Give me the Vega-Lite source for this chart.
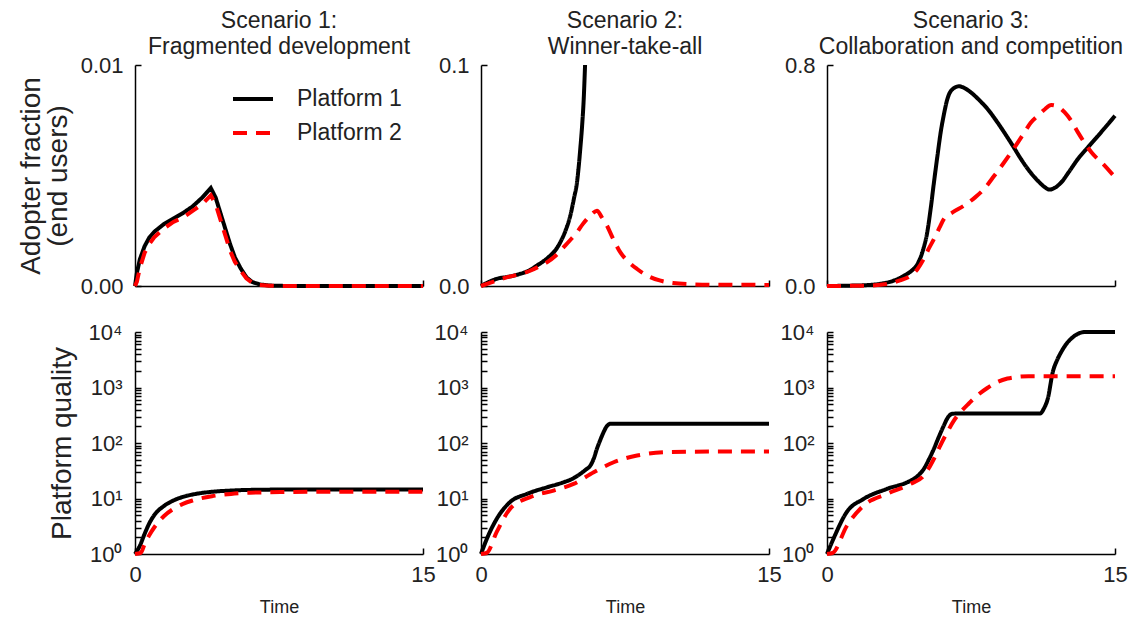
{
"$schema": "https://vega.github.io/schema/vega-lite/v6.json",
"padding": {"left": 17, "top": 10, "right": 0, "bottom": 0},
"background": "white",
"config": {
  "view": {"stroke": null},
  "font": "Liberation Sans",
  "axis": {"grid": false, "domainColor": "#000", "tickColor": "#000", "labelColor": "#222", "titleColor": "#222", "labelFontSize": 22, "domainWidth": 1.5, "tickWidth": 1.5, "labelFlush": false, "labelOverlap": false, "titleFontWeight": "normal"},
  "title": {"fontSize": 23, "fontWeight": "normal", "color": "#222", "lineHeight": 26, "frame": "group", "offset": -5},
  "line": {"strokeWidth": 4}
},
"datasets": {
  "a1": [
    {"p":"Platform 1","t":0,"v":0},{"p":"Platform 1","t":0.1,"v":0.0006},{"p":"Platform 1","t":0.25,"v":0.0012},{"p":"Platform 1","t":0.5,"v":0.0018},{"p":"Platform 1","t":0.75,"v":0.0022},{"p":"Platform 1","t":1,"v":0.00245},{"p":"Platform 1","t":1.5,"v":0.0028},{"p":"Platform 1","t":2,"v":0.00305},{"p":"Platform 1","t":2.5,"v":0.0033},{"p":"Platform 1","t":3,"v":0.0036},{"p":"Platform 1","t":3.5,"v":0.004},{"p":"Platform 1","t":3.95,"v":0.00443},{"p":"Platform 1","t":4.2,"v":0.004},{"p":"Platform 1","t":4.45,"v":0.0033},{"p":"Platform 1","t":4.7,"v":0.0026},{"p":"Platform 1","t":4.95,"v":0.0019},{"p":"Platform 1","t":5.2,"v":0.0013},{"p":"Platform 1","t":5.5,"v":0.0008},{"p":"Platform 1","t":5.8,"v":0.0004},{"p":"Platform 1","t":6.1,"v":0.00018},{"p":"Platform 1","t":6.5,"v":0.00007},{"p":"Platform 1","t":7,"v":0.00002},{"p":"Platform 1","t":8,"v":0},{"p":"Platform 1","t":15,"v":0},
    {"p":"Platform 2","t":0,"v":0},{"p":"Platform 2","t":0.1,"v":0.0002},{"p":"Platform 2","t":0.25,"v":0.0008},{"p":"Platform 2","t":0.5,"v":0.0015},{"p":"Platform 2","t":0.75,"v":0.0019},{"p":"Platform 2","t":1,"v":0.0022},{"p":"Platform 2","t":1.5,"v":0.0026},{"p":"Platform 2","t":2,"v":0.0029},{"p":"Platform 2","t":2.5,"v":0.0031},{"p":"Platform 2","t":3,"v":0.0034},{"p":"Platform 2","t":3.5,"v":0.0037},{"p":"Platform 2","t":3.95,"v":0.0041},{"p":"Platform 2","t":4.2,"v":0.0037},{"p":"Platform 2","t":4.45,"v":0.003},{"p":"Platform 2","t":4.7,"v":0.0023},{"p":"Platform 2","t":4.95,"v":0.0016},{"p":"Platform 2","t":5.2,"v":0.0011},{"p":"Platform 2","t":5.5,"v":0.0007},{"p":"Platform 2","t":5.8,"v":0.00035},{"p":"Platform 2","t":6.1,"v":0.00015},{"p":"Platform 2","t":6.5,"v":0.00005},{"p":"Platform 2","t":7,"v":0.00001},{"p":"Platform 2","t":8,"v":0},{"p":"Platform 2","t":15,"v":0}
  ],
  "a2": [
    {"p":"Platform 1","t":0,"v":0},{"p":"Platform 1","t":0.4,"v":0.0018},{"p":"Platform 1","t":0.8,"v":0.0032},{"p":"Platform 1","t":1.5,"v":0.0043},{"p":"Platform 1","t":2,"v":0.0054},{"p":"Platform 1","t":2.5,"v":0.007},{"p":"Platform 1","t":2.9,"v":0.0092},{"p":"Platform 1","t":3.3,"v":0.0115},{"p":"Platform 1","t":3.6,"v":0.0137},{"p":"Platform 1","t":3.9,"v":0.0165},{"p":"Platform 1","t":4.13,"v":0.0198},{"p":"Platform 1","t":4.4,"v":0.025},{"p":"Platform 1","t":4.65,"v":0.0318},{"p":"Platform 1","t":4.85,"v":0.04},{"p":"Platform 1","t":5,"v":0.0469},{"p":"Platform 1","t":5.1,"v":0.055},{"p":"Platform 1","t":5.17,"v":0.062},{"p":"Platform 1","t":5.27,"v":0.073},{"p":"Platform 1","t":5.35,"v":0.0846},{"p":"Platform 1","t":5.42,"v":0.1},
    {"p":"Platform 2","t":0,"v":0},{"p":"Platform 2","t":0.5,"v":0.0015},{"p":"Platform 2","t":1.34,"v":0.0039},{"p":"Platform 2","t":2,"v":0.0053},{"p":"Platform 2","t":2.56,"v":0.0069},{"p":"Platform 2","t":3,"v":0.0087},{"p":"Platform 2","t":3.43,"v":0.0107},{"p":"Platform 2","t":3.9,"v":0.0138},{"p":"Platform 2","t":4.3,"v":0.0175},{"p":"Platform 2","t":4.65,"v":0.0208},{"p":"Platform 2","t":5,"v":0.0243},{"p":"Platform 2","t":5.3,"v":0.028},{"p":"Platform 2","t":5.52,"v":0.0303},{"p":"Platform 2","t":5.8,"v":0.0328},{"p":"Platform 2","t":6.04,"v":0.0341},{"p":"Platform 2","t":6.3,"v":0.031},{"p":"Platform 2","t":6.56,"v":0.0273},{"p":"Platform 2","t":6.9,"v":0.021},{"p":"Platform 2","t":7.26,"v":0.0152},{"p":"Platform 2","t":7.7,"v":0.0108},{"p":"Platform 2","t":8.13,"v":0.0077},{"p":"Platform 2","t":8.7,"v":0.0045},{"p":"Platform 2","t":9.35,"v":0.0024},{"p":"Platform 2","t":10,"v":0.0014},{"p":"Platform 2","t":10.7,"v":0.0009},{"p":"Platform 2","t":12,"v":0.0006},{"p":"Platform 2","t":15,"v":0.0005}
  ],
  "a3": [
    {"p":"Platform 1","t":0,"v":0},{"p":"Platform 1","t":1,"v":0.001},{"p":"Platform 1","t":2,"v":0.003},{"p":"Platform 1","t":2.77,"v":0.008},{"p":"Platform 1","t":3.5,"v":0.02},{"p":"Platform 1","t":4,"v":0.037},{"p":"Platform 1","t":4.4,"v":0.055},{"p":"Platform 1","t":4.7,"v":0.078},{"p":"Platform 1","t":5,"v":0.13},{"p":"Platform 1","t":5.22,"v":0.194},{"p":"Platform 1","t":5.4,"v":0.28},{"p":"Platform 1","t":5.57,"v":0.375},{"p":"Platform 1","t":5.75,"v":0.47},{"p":"Platform 1","t":5.92,"v":0.556},{"p":"Platform 1","t":6.1,"v":0.625},{"p":"Platform 1","t":6.27,"v":0.677},{"p":"Platform 1","t":6.5,"v":0.71},{"p":"Platform 1","t":6.88,"v":0.723},{"p":"Platform 1","t":7.2,"v":0.715},{"p":"Platform 1","t":7.49,"v":0.701},{"p":"Platform 1","t":8,"v":0.668},{"p":"Platform 1","t":8.36,"v":0.641},{"p":"Platform 1","t":8.8,"v":0.6},{"p":"Platform 1","t":9.23,"v":0.556},{"p":"Platform 1","t":9.7,"v":0.505},{"p":"Platform 1","t":10.1,"v":0.46},{"p":"Platform 1","t":10.5,"v":0.42},{"p":"Platform 1","t":10.98,"v":0.381},{"p":"Platform 1","t":11.3,"v":0.36},{"p":"Platform 1","t":11.59,"v":0.349},{"p":"Platform 1","t":11.9,"v":0.357},{"p":"Platform 1","t":12.2,"v":0.375},{"p":"Platform 1","t":12.6,"v":0.413},{"p":"Platform 1","t":13.07,"v":0.46},{"p":"Platform 1","t":13.6,"v":0.503},{"p":"Platform 1","t":14.12,"v":0.544},{"p":"Platform 1","t":14.6,"v":0.583},{"p":"Platform 1","t":15,"v":0.616},
    {"p":"Platform 2","t":0,"v":0},{"p":"Platform 2","t":1,"v":0.0005},{"p":"Platform 2","t":2,"v":0.001},{"p":"Platform 2","t":3.12,"v":0.007},{"p":"Platform 2","t":3.8,"v":0.02},{"p":"Platform 2","t":4.35,"v":0.037},{"p":"Platform 2","t":4.7,"v":0.06},{"p":"Platform 2","t":5.04,"v":0.098},{"p":"Platform 2","t":5.3,"v":0.135},{"p":"Platform 2","t":5.57,"v":0.17},{"p":"Platform 2","t":5.85,"v":0.21},{"p":"Platform 2","t":6.09,"v":0.243},{"p":"Platform 2","t":6.5,"v":0.265},{"p":"Platform 2","t":7.14,"v":0.291},{"p":"Platform 2","t":7.7,"v":0.32},{"p":"Platform 2","t":8.18,"v":0.351},{"p":"Platform 2","t":8.7,"v":0.398},{"p":"Platform 2","t":9.23,"v":0.448},{"p":"Platform 2","t":9.75,"v":0.5},{"p":"Platform 2","t":10.28,"v":0.556},{"p":"Platform 2","t":10.6,"v":0.59},{"p":"Platform 2","t":10.98,"v":0.616},{"p":"Platform 2","t":11.35,"v":0.64},{"p":"Platform 2","t":11.68,"v":0.655},{"p":"Platform 2","t":12,"v":0.65},{"p":"Platform 2","t":12.37,"v":0.629},{"p":"Platform 2","t":12.7,"v":0.6},{"p":"Platform 2","t":13.07,"v":0.556},{"p":"Platform 2","t":13.4,"v":0.52},{"p":"Platform 2","t":13.77,"v":0.484},{"p":"Platform 2","t":14.4,"v":0.44},{"p":"Platform 2","t":15,"v":0.394}
  ],
  "q1": [
    {"p":"Platform 1","t":0,"v":1},{"p":"Platform 1","t":0.25,"v":1.4},{"p":"Platform 1","t":0.5,"v":2.3},{"p":"Platform 1","t":0.75,"v":3.6},{"p":"Platform 1","t":1,"v":5},{"p":"Platform 1","t":1.5,"v":7.3},{"p":"Platform 1","t":2,"v":9.2},{"p":"Platform 1","t":2.5,"v":10.7},{"p":"Platform 1","t":3,"v":11.8},{"p":"Platform 1","t":4,"v":13.2},{"p":"Platform 1","t":5,"v":13.9},{"p":"Platform 1","t":6,"v":14.3},{"p":"Platform 1","t":8,"v":14.5},{"p":"Platform 1","t":15,"v":14.5},
    {"p":"Platform 2","t":0,"v":1},{"p":"Platform 2","t":0.3,"v":1.05},{"p":"Platform 2","t":0.5,"v":1.5},{"p":"Platform 2","t":0.75,"v":2.2},{"p":"Platform 2","t":1,"v":3},{"p":"Platform 2","t":1.5,"v":4.8},{"p":"Platform 2","t":2,"v":6.5},{"p":"Platform 2","t":2.5,"v":8},{"p":"Platform 2","t":3,"v":9.2},{"p":"Platform 2","t":4,"v":11},{"p":"Platform 2","t":5,"v":12.1},{"p":"Platform 2","t":6,"v":12.7},{"p":"Platform 2","t":8,"v":13.1},{"p":"Platform 2","t":10,"v":13.3},{"p":"Platform 2","t":15,"v":13.3}
  ],
  "q2": [
    {"p":"Platform 1","t":0,"v":1},{"p":"Platform 1","t":0.3,"v":1.86},{"p":"Platform 1","t":0.82,"v":4.3},{"p":"Platform 1","t":1.51,"v":8.6},{"p":"Platform 1","t":2.39,"v":12.1},{"p":"Platform 1","t":3.43,"v":15.9},{"p":"Platform 1","t":4.3,"v":19.6},{"p":"Platform 1","t":4.8,"v":23},{"p":"Platform 1","t":5.17,"v":27.8},{"p":"Platform 1","t":5.45,"v":33},{"p":"Platform 1","t":5.69,"v":39},{"p":"Platform 1","t":5.87,"v":52},{"p":"Platform 1","t":6.04,"v":79},{"p":"Platform 1","t":6.22,"v":115},{"p":"Platform 1","t":6.39,"v":158},{"p":"Platform 1","t":6.55,"v":200},{"p":"Platform 1","t":6.74,"v":222},{"p":"Platform 1","t":7,"v":222},{"p":"Platform 1","t":15,"v":222},
    {"p":"Platform 2","t":0,"v":1},{"p":"Platform 2","t":0.3,"v":1.05},{"p":"Platform 2","t":0.82,"v":2.5},{"p":"Platform 2","t":1.51,"v":6.5},{"p":"Platform 2","t":2.56,"v":10.6},{"p":"Platform 2","t":3.78,"v":13.9},{"p":"Platform 2","t":4.82,"v":18.3},{"p":"Platform 2","t":5.87,"v":29.8},{"p":"Platform 2","t":6.91,"v":45},{"p":"Platform 2","t":8.13,"v":59.5},{"p":"Platform 2","t":9.87,"v":68.7},{"p":"Platform 2","t":12,"v":70},{"p":"Platform 2","t":15,"v":70}
  ],
  "q3": [
    {"p":"Platform 1","t":0,"v":1},{"p":"Platform 1","t":0.33,"v":1.86},{"p":"Platform 1","t":1.03,"v":5.7},{"p":"Platform 1","t":1.9,"v":9.8},{"p":"Platform 1","t":3.12,"v":14.9},{"p":"Platform 1","t":4.35,"v":21},{"p":"Platform 1","t":4.75,"v":26},{"p":"Platform 1","t":5.04,"v":34},{"p":"Platform 1","t":5.3,"v":50},{"p":"Platform 1","t":5.57,"v":79},{"p":"Platform 1","t":5.83,"v":130},{"p":"Platform 1","t":6.09,"v":208},{"p":"Platform 1","t":6.3,"v":290},{"p":"Platform 1","t":6.53,"v":336},{"p":"Platform 1","t":6.8,"v":340},{"p":"Platform 1","t":11.1,"v":340},{"p":"Platform 1","t":11.3,"v":420},{"p":"Platform 1","t":11.5,"v":630},{"p":"Platform 1","t":11.76,"v":1900},{"p":"Platform 1","t":12,"v":3200},{"p":"Platform 1","t":12.2,"v":4370},{"p":"Platform 1","t":12.45,"v":6000},{"p":"Platform 1","t":12.72,"v":7600},{"p":"Platform 1","t":13.05,"v":9200},{"p":"Platform 1","t":13.42,"v":10000},{"p":"Platform 1","t":15,"v":10000},
    {"p":"Platform 2","t":0,"v":1},{"p":"Platform 2","t":0.3,"v":1.05},{"p":"Platform 2","t":1.03,"v":3.2},{"p":"Platform 2","t":1.9,"v":7.4},{"p":"Platform 2","t":3.12,"v":12.1},{"p":"Platform 2","t":4.35,"v":18.3},{"p":"Platform 2","t":5.04,"v":25.8},{"p":"Platform 2","t":5.3,"v":35},{"p":"Platform 2","t":5.57,"v":52},{"p":"Platform 2","t":5.9,"v":90},{"p":"Platform 2","t":6.27,"v":158},{"p":"Platform 2","t":6.6,"v":250},{"p":"Platform 2","t":6.96,"v":362},{"p":"Platform 2","t":7.4,"v":520},{"p":"Platform 2","t":7.83,"v":720},{"p":"Platform 2","t":8.35,"v":980},{"p":"Platform 2","t":8.88,"v":1260},{"p":"Platform 2","t":9.4,"v":1450},{"p":"Platform 2","t":9.9,"v":1550},{"p":"Platform 2","t":10.5,"v":1600},{"p":"Platform 2","t":15,"v":1600}
  ]
},
"columns": 3,
"spacing": {"row": 46, "column": 58},
"bounds": "flush",
"resolve": {"scale": {"color": "independent", "strokeDash": "independent", "x": "independent", "y": "independent"}, "legend": {"color": "independent", "strokeDash": "independent"}},
"concat": [
  {
    "width": 288, "height": 221,
    "title": {"text": ["Scenario 1:", "Fragmented development"]},
    "data": {"name": "a1"},
    "mark": {"type": "line", "interpolate": "linear"},
    "encoding": {
      "x": {"field": "t", "type": "quantitative", "scale": {"domain": [0, 15], "nice": false}, "axis": {"values": [0, 15], "labels": false, "title": null, "tickSize": -6}},
      "y": {"field": "v", "type": "quantitative", "scale": {"domain": [0, 0.01], "nice": false}, "axis": {"values": [0, 0.01], "format": ".2f", "title": ["Adopter fraction", "(end users)"], "titleFontSize": 28, "titleLineHeight": 27, "titlePadding": 8, "tickSize": -6, "labelPadding": 18}},
      "color": {"field": "p", "type": "nominal", "scale": {"domain": ["Platform 1", "Platform 2"], "range": ["#000000", "#ff0000"]}, "legend": {"title": null, "orient": "none", "legendX": 96, "legendY": 12, "symbolType": "stroke", "symbolSize": 1600, "symbolStrokeWidth": 4.5, "labelFontSize": 23, "labelColor": "#222", "labelOffset": 22, "rowPadding": -3}},
      "strokeDash": {"field": "p", "type": "nominal", "scale": {"domain": ["Platform 1", "Platform 2"], "range": [[1, 0], [14, 9]]}, "legend": {"title": null, "orient": "none", "legendX": 96, "legendY": 12, "symbolType": "stroke", "symbolSize": 1600, "symbolStrokeWidth": 4.5, "labelFontSize": 23, "labelColor": "#222", "labelOffset": 22, "rowPadding": -3}}
    }
  },
  {
    "width": 288, "height": 221,
    "title": {"text": ["Scenario 2:", "Winner-take-all"]},
    "data": {"name": "a2"},
    "mark": {"type": "line", "interpolate": "monotone"},
    "encoding": {
      "x": {"field": "t", "type": "quantitative", "scale": {"domain": [0, 15], "nice": false}, "axis": {"values": [0, 15], "labels": false, "title": null, "tickSize": -6}},
      "y": {"field": "v", "type": "quantitative", "scale": {"domain": [0, 0.1], "nice": false}, "axis": {"values": [0, 0.1], "format": ".1f", "title": null, "tickSize": -6, "labelPadding": 18}},
      "color": {"field": "p", "type": "nominal", "scale": {"domain": ["Platform 1", "Platform 2"], "range": ["#000000", "#ff0000"]}, "legend": null},
      "strokeDash": {"field": "p", "type": "nominal", "scale": {"domain": ["Platform 1", "Platform 2"], "range": [[1, 0], [14, 9]]}, "legend": null}
    }
  },
  {
    "width": 288, "height": 221,
    "title": {"text": ["Scenario 3:", "Collaboration and competition"]},
    "data": {"name": "a3"},
    "mark": {"type": "line", "interpolate": "monotone"},
    "encoding": {
      "x": {"field": "t", "type": "quantitative", "scale": {"domain": [0, 15], "nice": false}, "axis": {"values": [0, 15], "labels": false, "title": null, "tickSize": -6}},
      "y": {"field": "v", "type": "quantitative", "scale": {"domain": [0, 0.8], "nice": false}, "axis": {"values": [0, 0.8], "format": ".1f", "title": null, "tickSize": -6, "labelPadding": 18}},
      "color": {"field": "p", "type": "nominal", "scale": {"domain": ["Platform 1", "Platform 2"], "range": ["#000000", "#ff0000"]}, "legend": null},
      "strokeDash": {"field": "p", "type": "nominal", "scale": {"domain": ["Platform 1", "Platform 2"], "range": [[1, 0], [14, 9]]}, "legend": null}
    }
  },
  {
    "width": 288, "height": 222,
    "data": {"name": "q1"},
    "mark": {"type": "line", "interpolate": "monotone"},
    "encoding": {
      "x": {"field": "t", "type": "quantitative", "scale": {"domain": [0, 15], "nice": false}, "axis": {"values": [0, 15], "format": "d", "title": "Time", "titleFontSize": 18, "titlePadding": 13, "tickSize": -6, "labelPadding": 16}},
      "y": {"field": "v", "type": "quantitative", "scale": {"type": "log", "domain": [1, 10000], "nice": false}, "axis": {"tickCount": 100, "values": [1,2,3,4,5,6,7,8,9,10,20,30,40,50,60,70,80,90,100,200,300,400,500,600,700,800,900,1000,2000,3000,4000,5000,6000,7000,8000,9000,10000], "labelExpr": "datum.value == 1 ? '10⁰' : datum.value == 10 ? '10¹' : datum.value == 100 ? '10²' : datum.value == 1000 ? '10³' : datum.value == 10000 ? '10⁴' : ''", "tickSize": -6, "title": "Platform quality", "titleFontSize": 28, "titlePadding": 12, "labelPadding": 19}},
      "color": {"field": "p", "type": "nominal", "scale": {"domain": ["Platform 1", "Platform 2"], "range": ["#000000", "#ff0000"]}, "legend": null},
      "strokeDash": {"field": "p", "type": "nominal", "scale": {"domain": ["Platform 1", "Platform 2"], "range": [[1, 0], [14, 9]]}, "legend": null}
    }
  },
  {
    "width": 288, "height": 222,
    "data": {"name": "q2"},
    "mark": {"type": "line", "interpolate": "monotone"},
    "encoding": {
      "x": {"field": "t", "type": "quantitative", "scale": {"domain": [0, 15], "nice": false}, "axis": {"values": [0, 15], "format": "d", "title": "Time", "titleFontSize": 18, "titlePadding": 13, "tickSize": -6, "labelPadding": 16}},
      "y": {"field": "v", "type": "quantitative", "scale": {"type": "log", "domain": [1, 10000], "nice": false}, "axis": {"tickCount": 100, "values": [1,2,3,4,5,6,7,8,9,10,20,30,40,50,60,70,80,90,100,200,300,400,500,600,700,800,900,1000,2000,3000,4000,5000,6000,7000,8000,9000,10000], "labelExpr": "datum.value == 1 ? '10⁰' : datum.value == 10 ? '10¹' : datum.value == 100 ? '10²' : datum.value == 1000 ? '10³' : datum.value == 10000 ? '10⁴' : ''", "tickSize": -6, "title": null, "labelPadding": 19}},
      "color": {"field": "p", "type": "nominal", "scale": {"domain": ["Platform 1", "Platform 2"], "range": ["#000000", "#ff0000"]}, "legend": null},
      "strokeDash": {"field": "p", "type": "nominal", "scale": {"domain": ["Platform 1", "Platform 2"], "range": [[1, 0], [14, 9]]}, "legend": null}
    }
  },
  {
    "width": 288, "height": 222,
    "data": {"name": "q3"},
    "mark": {"type": "line", "interpolate": "monotone"},
    "encoding": {
      "x": {"field": "t", "type": "quantitative", "scale": {"domain": [0, 15], "nice": false}, "axis": {"values": [0, 15], "format": "d", "title": "Time", "titleFontSize": 18, "titlePadding": 13, "tickSize": -6, "labelPadding": 16}},
      "y": {"field": "v", "type": "quantitative", "scale": {"type": "log", "domain": [1, 10000], "nice": false}, "axis": {"tickCount": 100, "values": [1,2,3,4,5,6,7,8,9,10,20,30,40,50,60,70,80,90,100,200,300,400,500,600,700,800,900,1000,2000,3000,4000,5000,6000,7000,8000,9000,10000], "labelExpr": "datum.value == 1 ? '10⁰' : datum.value == 10 ? '10¹' : datum.value == 100 ? '10²' : datum.value == 1000 ? '10³' : datum.value == 10000 ? '10⁴' : ''", "tickSize": -6, "title": null, "labelPadding": 19}},
      "color": {"field": "p", "type": "nominal", "scale": {"domain": ["Platform 1", "Platform 2"], "range": ["#000000", "#ff0000"]}, "legend": null},
      "strokeDash": {"field": "p", "type": "nominal", "scale": {"domain": ["Platform 1", "Platform 2"], "range": [[1, 0], [14, 9]]}, "legend": null}
    }
  }
]
}
